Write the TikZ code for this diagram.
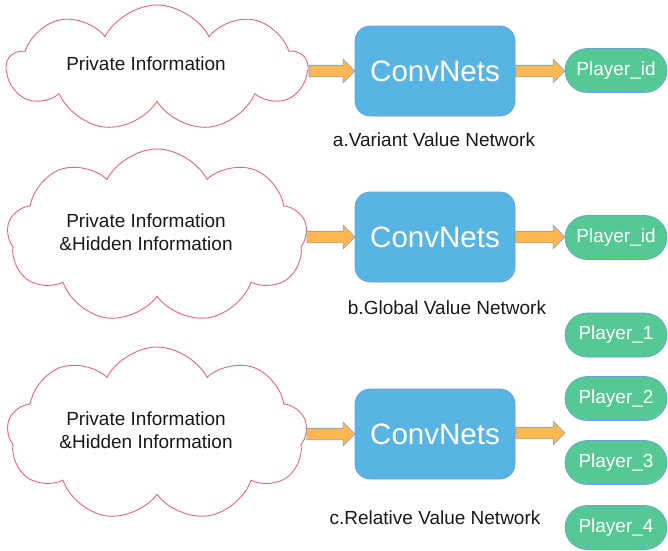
\documentclass[tikz,border=0pt]{standalone}
\usepackage{fontspec}
\setmainfont{Liberation Sans}
\usepackage{tikz}
\usetikzlibrary{calc,positioning,shapes.symbols,shapes.arrows}
\definecolor{cloudred}{HTML}{E8677A}
\definecolor{netblue}{HTML}{57B4E3}
\definecolor{edgeblue}{HTML}{6E9FDC}
\definecolor{playergreen}{HTML}{55C993}
\definecolor{arroworange}{HTML}{FFB74F}
\newcommand{\infofont}{\fontsize{19}{24}\selectfont}
\newcommand{\netfont}{\fontsize{29.5}{34}\selectfont}
\tikzset{
  infocloud/.style={cloud,cloud puffs=9,cloud puff arc=125,cloud ignores aspect,
    draw=cloudred,line width=0.9pt,fill=white,minimum width=300pt,inner sep=0pt},
  infotext/.style={font=\infofont,align=center,text=black!90},
  netbox/.style={draw=edgeblue,fill=netblue,line width=0.7pt,rounded corners=15pt,
    minimum width=160pt,minimum height=90pt,text=white,font=\netfont},
  playerbox/.style={draw=edgeblue,fill=playergreen,line width=0.7pt,rounded corners=22pt,
    minimum width=102pt,minimum height=44pt,text=white,font=\infofont},
  flowarrow/.style={single arrow,draw=edgeblue,fill=arroworange,line width=0.6pt,
    inner xsep=0pt,inner ysep=5.5pt,single arrow head extend=6pt,
    single arrow tip angle=90,anchor=west},
  netcaption/.style={font=\infofont,text=black!90}
}

\begin{document}
\begin{tikzpicture}[x=1pt,y=-1pt]
  \useasboundingbox (0,0) rectangle (668,550);
  % a. variant value network
  \node[infocloud,minimum height=126pt] (cloudA) at (157,68) {};
  \node[infotext] (txtA) at ($(cloudA.center)+(-11,-4)$) {Private Information};
  \node[netbox] (netA) at (435,71) {ConvNets};
  \node[playerbox] (pidA) at (616,70.5) {Player\_id};
  \node[netcaption] (capA) at (434,140) {a.Variant Value Network};
  \path let \p1=($(netA.west)-(cloudA.east)$) in
    node[flowarrow,minimum height=\x1] (arrA1) at (cloudA.east |- netA.west) {};
  \path let \p1=($(pidA.west)-(netA.east)$) in
    node[flowarrow,minimum height=\x1] (arrA2) at (netA.east) {};
  % b. global value network
  \node[infocloud,minimum height=174pt] (cloudB) at (157,236) {};
  \node[infotext] (txtB) at ($(cloudB.center)+(-11,-4)$) {Private Information\\[-1pt]\&Hidden Information};
  \node[netbox] (netB) at (435,237) {ConvNets};
  \node[playerbox] (pidB) at (616,237.5) {Player\_id};
  \node[netcaption] (capB) at (447,308) {b.Global Value Network};
  \path let \p1=($(netB.west)-(cloudB.east)$) in
    node[flowarrow,minimum height=\x1] (arrB1) at (cloudB.east |- netB.west) {};
  \path let \p1=($(pidB.west)-(netB.east)$) in
    node[flowarrow,minimum height=\x1] (arrB2) at (netB.east) {};
  % c. relative value network, one output per player
  \node[infocloud,minimum height=174pt] (cloudC) at (157,434) {};
  \node[infotext] (txtC) at ($(cloudC.center)+(-11,-4)$) {Private Information\\[-1pt]\&Hidden Information};
  \node[netbox] (netC) at (435,434) {ConvNets};
  \node[playerbox] (pl1) at (616,335) {Player\_1};
  \node[playerbox] (pl2) at (616,398.5) {Player\_2};
  \node[playerbox] (pl3) at (616,462.5) {Player\_3};
  \node[playerbox] (pl4) at (616,527.5) {Player\_4};
  \node[netcaption] (capC) at (435,518) {c.Relative Value Network};
  \path let \p1=($(netC.west)-(cloudC.east)$) in
    node[flowarrow,minimum height=\x1] (arrC1) at (cloudC.east |- netC.west) {};
  \coordinate (outC) at (netC.east -| pl2.west);
  \path let \p1=($(outC)-(netC.east)$) in
    node[flowarrow,minimum height=\x1] (arrC2) at ($(netC.east)+(0,-1)$) {};
\end{tikzpicture}
\end{document}
